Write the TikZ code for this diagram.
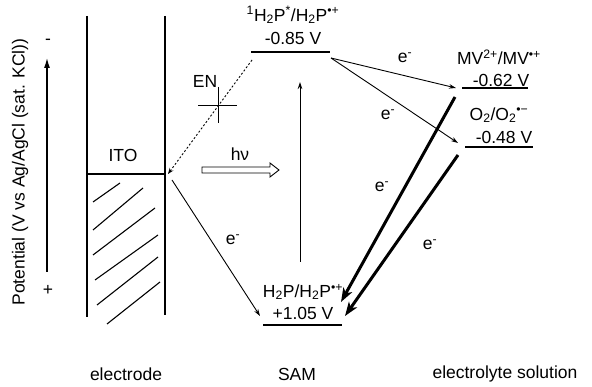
\documentclass[tikz,border=0pt]{standalone}
\usepackage{fontspec}
\setmainfont{Liberation Sans}
\usetikzlibrary{arrows.meta}
\newcommand\sbp[1]{\textsuperscript{#1}}
\newcommand\sbb[1]{\textsubscript{#1}}
\begin{document}
\begin{tikzpicture}[x=1pt,y=-1pt,
  font=\fontsize{17.5}{20}\selectfont,
  txt/.style={inner sep=0pt,anchor=center},
  wall/.style={line width=1.3pt},
  hatch/.style={line width=1.1pt},
  lvl/.style={line width=1.5pt},
  thinarrow/.style={line width=0.9pt,-{Stealth[length=7pt,width=4.5pt]}},
  thickarrow/.style={line width=3pt,-{Stealth[length=14pt,width=10pt,inset=4pt]}},
  dotarrow/.style={line width=0.9pt,dash pattern=on 2pt off 2pt,-{Stealth[length=6pt,width=4.5pt]}},
  axisarrow/.style={line width=1.2pt,-{Latex[length=10pt,width=6pt]}}]
\useasboundingbox (0,0) rectangle (592,387);
% axis
\node[txt,rotate=90] (ylab) at (20,172) {Potential (V vs Ag/AgCl (sat. KCl))};
\coordinate (axb) at (47,272);
\coordinate (axt) at (47,58);
\draw[axisarrow] (axb) -- (axt);
\node[txt] (minus) at (48,42) {-};
\node[txt] (plus) at (48,290) {+};
% electrode
\draw[wall] (87,16) -- (87,317);
\draw[wall] (165,16) -- (165,315);
\draw[wall] (87,174) -- (165,174);
\node[txt] (ito) at (123,155) {ITO};
\coordinate (itoR) at (168,174);
\draw[hatch] (93,202) -- (120,183);
\draw[hatch] (93,230) -- (143,188);
\draw[hatch] (93,255) -- (155,208);
\draw[hatch] (95,280) -- (158,235);
\draw[hatch] (97,305) -- (158,257);
\draw[hatch] (107,324) -- (160,282);
% top level
\node[txt] (topname) at (293,15) {\sbp{1}H\sbb{2}P\sbp{*}/H\sbb{2}P\sbp{•+}};
\node[txt] (topval) at (293,38) {-0.85 V};
\draw[lvl] (251,52) -- (330,52);
\coordinate (topL) at (252,60);
\coordinate (topR) at (331,58);
% bottom level
\node[txt] (botname) at (303,292) {H\sbb{2}P/H\sbb{2}P\sbp{•+}};
\node[txt] (botval) at (303,313) {+1.05 V};
\draw[lvl] (263,325) -- (342,325);
\coordinate (botL) at (260,316);
\coordinate (botA) at (341,302);
\coordinate (botB) at (345,316);
% MV level
\node[txt] (mvname) at (499,57) {MV\sbp{2+}/MV\sbp{•+}};
\node[txt] (mvval) at (501,80) {-0.62 V};
\draw[lvl] (462,88) -- (528,88);
\coordinate (mvL) at (456,88);
\coordinate (mvB) at (455,97);
% O2 level
\node[txt] (oname) at (499,115) {O\sbb{2}/O\sbb{2}\sbp{•−}};
\node[txt] (oval) at (504,137) {-0.48 V};
\draw[lvl] (465,147) -- (533,147);
\coordinate (oL) at (458,143);
\coordinate (oB) at (458,155);
% EN blocked path
\draw[dotarrow] (topL) -- (itoR);
\node[txt] (en) at (205,81) {EN};
\draw[line width=1pt] (198,106) -- (237,106);
\draw[line width=1pt] (218,87) -- (218,123);
% h nu
\node[txt] (hv) at (240,154) {hν};
\draw[line width=0.9pt] (202,167) -- (270,167) -- (270,163) -- (279,170) -- (270,177) -- (270,173) -- (202,173) -- cycle;
% excitation
\coordinate (exb) at (300,262);
\coordinate (ext) at (300,82);
\draw[thinarrow] (exb) -- (ext);
% electron transfers
\draw[thinarrow] (172,180) -- (botL);
\node[txt] (e1) at (233,240) {e\sbp{-}};
\draw[thinarrow] (topR) -- (mvL);
\node[txt] (e2) at (405,58) {e\sbp{-}};
\draw[thinarrow] (topR) -- (oL);
\node[txt] (e3) at (388,115) {e\sbp{-}};
\draw[thickarrow] (mvB) -- (botA);
\node[txt] (e4) at (382,187) {e\sbp{-}};
\draw[thickarrow] (oB) -- (botB);
\node[txt] (e5) at (430,245) {e\sbp{-}};
% column labels
\node[txt] (elec) at (126,374) {electrode};
\node[txt] (sam) at (297,374) {SAM};
\node[txt] (sol) at (505,374) {electrolyte solution};
\end{tikzpicture}
\end{document}
